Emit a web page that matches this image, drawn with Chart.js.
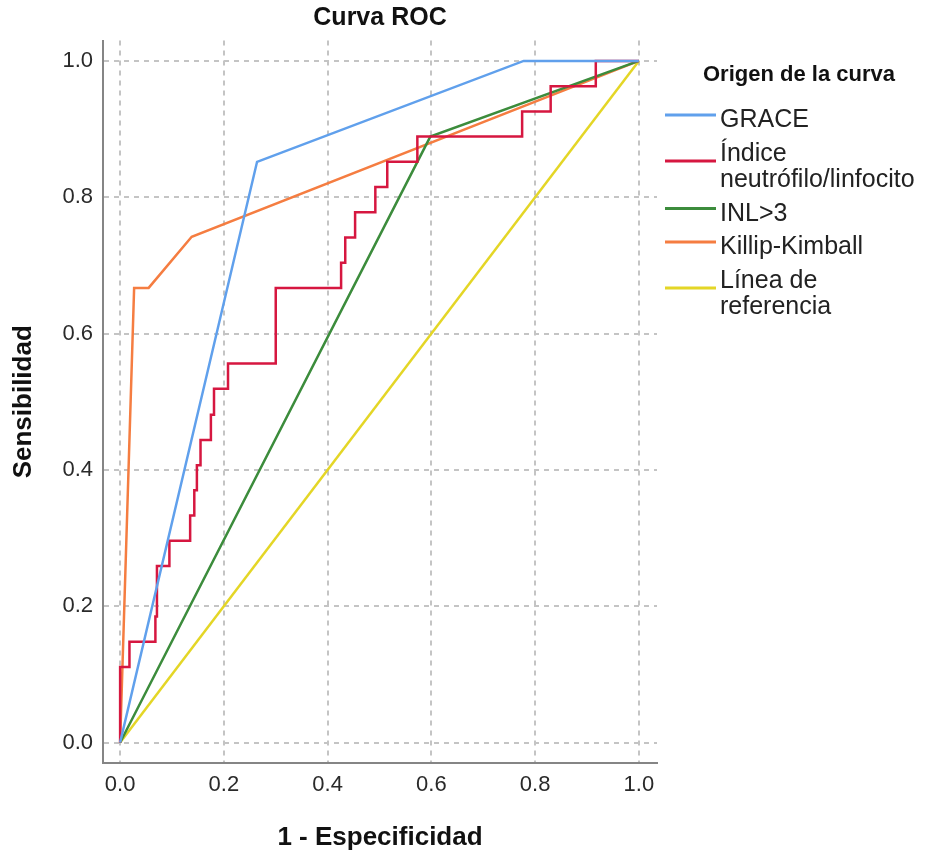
<!DOCTYPE html>
<html>
<head>
<meta charset="utf-8">
<title>Curva ROC</title>
<script src="https://cdn.jsdelivr.net/npm/chart.js@4.4.1/dist/chart.umd.min.js"></script>
<style>
  html, body { margin: 0; padding: 0; background: #fff; }
  #wrap { width: 925px; height: 858px; }
</style>
</head>
<body>
<div id="wrap"><canvas id="rocChart" width="925" height="858"></canvas></div>
<script>
// legend names (wrapped like in the SPSS output)
var seriesNames = ['GRACE', ['Índice', 'neutrófilo/linfocito'], 'INL>3', 'Killip-Kimball', ['Línea de', 'referencia']];
var seriesColors = ['rgb(96,160,236)', 'rgb(214,23,64)', 'rgb(60,140,60)', 'rgb(245,125,65)', 'rgb(228,214,38)'];

// 1 - especificidad (x) and sensibilidad (y) for each curve
var graceX = [0, 0.264, 0.778, 1];
var graceY = [0, 0.852, 1, 1];

// step curve: upper-left corner of every step
var indiceX = [0, 0, 0.018, 0.068, 0.071, 0.095, 0.135, 0.143, 0.148, 0.155, 0.175, 0.181, 0.208,
               0.300, 0.426, 0.434, 0.453, 0.492, 0.515, 0.573, 0.775, 0.830, 0.917, 1];
var indiceY = [0, 0.111, 0.148, 0.185, 0.259, 0.296, 0.333, 0.370, 0.407, 0.444, 0.481, 0.519, 0.556,
               0.667, 0.704, 0.741, 0.778, 0.815, 0.852, 0.889, 0.926, 0.963, 1, 1];

var inlX = [0, 0.598, 1];
var inlY = [0, 0.889, 1];

var killipX = [0, 0.027, 0.055, 0.138, 1];
var killipY = [0, 0.667, 0.667, 0.742, 1];

var refX = [0, 1];
var refY = [0, 1];

var tickValues = [0, 0.2, 0.4, 0.6, 0.8, 1.0];

function toPoints(xs, ys) {
    var pts = [];
    for (var i = 0; i < xs.length; i++) pts.push({x: xs[i], y: ys[i]});
    return pts;
}

function makeSet(i, xs, ys, stepped) {
    var name = seriesNames[i];
    return {
        label: Array.isArray(name) ? name.join(' ') : name,
        data: toPoints(xs, ys),
        borderColor: seriesColors[i],
        backgroundColor: seriesColors[i],
        borderWidth: 2.5,
        pointRadius: 0,
        tension: 0,
        fill: false,
        stepped: stepped || false
    };
}

// legend drawn on the right, like the SPSS one
var sideLegend = {
    id: 'sideLegend',
    afterDraw: function (chart) {
        var ctx = chart.ctx;
        ctx.save();
        ctx.fillStyle = '#111';
        ctx.textBaseline = 'alphabetic';
        ctx.textAlign = 'left';
        ctx.font = "bold 22px 'Liberation Sans', Arial, sans-serif";
        ctx.fillText('Origen de la curva', 703, 81);

        ctx.font = "25px 'Liberation Sans', Arial, sans-serif";
        var y = 127;
        for (var i = 0; i < seriesNames.length; i++) {
            var lines = Array.isArray(seriesNames[i]) ? seriesNames[i] : [seriesNames[i]];
            var ly = y - 12 + (lines.length - 1) * 12.5;
            ctx.strokeStyle = seriesColors[i];
            ctx.lineWidth = 3;
            ctx.beginPath();
            ctx.moveTo(665, ly);
            ctx.lineTo(716, ly);
            ctx.stroke();
            ctx.fillStyle = '#222';
            for (var k = 0; k < lines.length; k++) {
                ctx.fillText(lines[k], 720, y + k * 26.5);
            }
            y += lines.length * 26.5 + 7;
        }
        ctx.restore();
    }
};

var ctx1 = document.getElementById('rocChart');

var rocChart = new Chart(ctx1, {
    type: 'line',
    data: {
        datasets: [
            makeSet(0, graceX, graceY),
            makeSet(1, indiceX, indiceY, 'before'),
            makeSet(2, inlX, inlY),
            makeSet(3, killipX, killipY),
            makeSet(4, refX, refY)
        ]
    },
    options: {
        responsive: false,
        animation: false,
        devicePixelRatio: 1,
        layout: { padding: { top: 0, left: 0, right: 268, bottom: 0 }, autoPadding: false },
        plugins: {
            legend: { display: false },
            tooltip: { enabled: false },
            title: {
                display: true,
                fullSize: false,
                text: 'Curva ROC',
                color: '#111',
                font: { family: "'Liberation Sans', Arial, sans-serif", size: 25, weight: 'bold', lineHeight: 1.2 },
                padding: { top: 3, bottom: 7.5 }
            }
        },
        scales: {
            x: {
                type: 'linear',
                min: -0.033,
                max: 1.035,
                afterBuildTicks: function (scale) {
                    scale.ticks = tickValues.map(function (v) { return {value: v}; });
                },
                afterFit: function (scale) { scale.height = 95; },
                ticks: {
                    padding: 9,
                    color: '#2a2a2a',
                    font: { family: "'Liberation Sans', Arial, sans-serif", size: 22 },
                    callback: function (v) { return v.toFixed(1); }
                },
                grid: { color: '#c4c4c4', lineWidth: 2, drawTicks: false },
                border: { display: true, color: '#858585', width: 2, dash: [5, 5] },
                title: {
                    display: true,
                    text: '1 - Especificidad',
                    color: '#111',
                    font: { family: "'Liberation Sans', Arial, sans-serif", size: 26, weight: 'bold', lineHeight: 1.2 },
                    padding: { top: 0, bottom: 5 }
                }
            },
            y: {
                type: 'linear',
                min: -0.03,
                max: 1.03,
                afterBuildTicks: function (scale) {
                    scale.ticks = tickValues.map(function (v) { return {value: v}; });
                },
                afterFit: function (scale) { scale.width = 103; },
                ticks: {
                    padding: 10,
                    color: '#2a2a2a',
                    font: { family: "'Liberation Sans', Arial, sans-serif", size: 22 },
                    callback: function (v) { return v.toFixed(1); }
                },
                grid: { color: '#c4c4c4', lineWidth: 2, drawTicks: false },
                border: { display: true, color: '#858585', width: 2, dash: [5, 5] },
                title: {
                    display: true,
                    text: 'Sensibilidad',
                    color: '#111',
                    font: { family: "'Liberation Sans', Arial, sans-serif", size: 26, weight: 'bold', lineHeight: 1.2 },
                    padding: { top: 8, bottom: 0 }
                }
            }
        }
    },
    plugins: [sideLegend]
});
</script>
</body>
</html>
